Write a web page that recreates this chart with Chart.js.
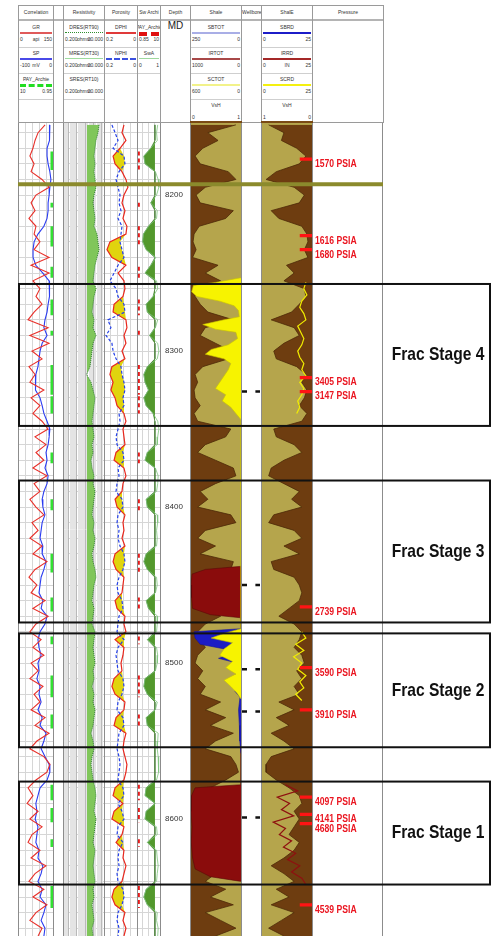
<!DOCTYPE html>
<html>
<head>
<meta charset="utf-8">
<script src="https://cdn.jsdelivr.net/npm/chart.js@4.4.1/dist/chart.umd.min.js"></script>
<style>
  html, body { margin: 0; padding: 0; background: #fff; }
  #page { position: relative; width: 492px; height: 936px; overflow: hidden;
          font-family: "Liberation Sans", Arial, sans-serif; color: #333; }
  canvas { position: absolute; }
  .hcol { position: absolute; top: 5px; height: 118px; border: 1px solid #9a9a9a;
          box-sizing: border-box; background: #fff; overflow: hidden; }
  .htitle { position: absolute; left: 0; right: 0; top: 0; height: 13px;
            border-bottom: 2px solid #b4b4b4; font-size: 5px; line-height: 13px;
            text-align: center; white-space: nowrap; }
  .hrow { position: absolute; left: 0; right: 0; height: 26px; border-bottom: 1px solid #cfcfcf; }
  .hname { position: absolute; left: -10px; right: -10px; top: 3px; text-align: center;
           font-size: 5px; white-space: nowrap; }
  .hline { position: absolute; left: 1px; right: 1px; top: 11px; height: 0; }
  .hlab { position: absolute; top: 15px; font-size: 5px; white-space: nowrap; }
  .tb { position: absolute; top: 123px; height: 813px; width: 0; border-left: 1px solid #8c8c8c; }
</style>
</head>
<body>
<div id="page"></div>
<script>
// ---------- depth frame ----------
const DEPTH_TOP = 8153.8;
const DEPTH_BASE = 8675;
const DEPTH_LABELS = [8200, 8300, 8400, 8500, 8600];

// ---------- log samples (5 ft) ----------
const DEPTH = [
  8155,8160,8165,8170,8175,8180,8185,8190,8195,8200,
  8205,8210,8215,8220,8225,8230,8235,8240,8245,8250,
  8255,8260,8265,8270,8275,8280,8285,8290,8295,8300,
  8305,8310,8315,8320,8325,8330,8335,8340,8345,8350,
  8355,8360,8365,8370,8375,8380,8385,8390,8395,8400,
  8405,8410,8415,8420,8425,8430,8435,8440,8445,8450,
  8455,8460,8465,8470,8475,8480,8485,8490,8495,8500,
  8505,8510,8515,8520,8525,8530,8535,8540,8545,8550,
  8555,8560,8565,8570,8575,8580,8585,8590,8595,8600,
  8605,8610,8615,8620,8625,8630,8635,8640,8645,8650,
  8655,8660,8665,8670,8675
];
const GR = [
  116,86,73,64,51,69,56,103,133,77,
  56,73,47,77,69,94,69,133,56,133,
  64,94,77,103,69,43,129,51,133,60,
  103,47,73,51,111,56,94,64,103,129,
  73,120,77,111,64,124,69,94,51,77,
  111,60,86,51,103,64,124,73,47,81,
  56,116,64,129,77,51,99,64,111,56,
  86,51,107,69,94,56,116,73,133,81,
  51,111,137,124,77,43,64,39,86,51,
  103,60,43,94,56,120,73,47,111,64,
  124,77,51,103,86
];
const SP = [
  -9,-9,-11,-17,-17,-14,-9,-6,-9,-11,
  -14,-14,-17,-26,-43,-54,-57,-57,-49,-29,
  -11,-9,-11,-14,-17,-23,-26,-17,-31,-37,
  -40,-43,-49,-51,-49,-37,-31,-26,-17,-9,
  -11,-14,-20,-17,-23,-14,-17,-26,-31,-29,
  -23,-31,-34,-37,-29,-31,-20,-26,-34,-37,
  -40,-29,-34,-17,-23,-37,-43,-40,-34,-43,
  -40,-46,-37,-40,-34,-43,-31,-37,-20,-26,
  -34,-23,-11,-9,-17,-37,-43,-49,-46,-51,
  -43,-46,-49,-40,-43,-29,-34,-43,-31,-37,
  -20,-26,-34,-23,-26
];
const DRES = [
  4900,3700,2100,1590,1210,1590,1210,1590,2100,1210,
  914,1210,1590,1210,2800,3700,4900,2800,1590,1210,
  914,2100,1210,914,690,1210,914,2100,914,690,
  520,392,150,520,914,1590,1210,914,690,914,
  1210,690,914,520,690,1210,914,1590,1210,914,
  690,1210,914,1590,1210,690,914,1590,2100,1210,
  914,690,1210,914,690,1590,1210,914,1210,1590,
  914,1210,690,1210,914,1590,1210,914,520,914,
  1210,690,520,690,914,1590,2100,1590,1210,2100,
  1590,1210,914,1590,1210,914,1210,1590,914,1210,
  690,914,1210,690,914
];
const RES_CUTOFF = 170;
const DPHI = [
  .079,.091,.067,.103,.145,.133,.091,.067,.055,.079,
  .091,.073,.085,.061,.067,.164,.182,.152,.067,.115,
  .079,.073,.085,.139,.145,.067,.061,.079,.067,.091,
  .073,.152,.164,.145,.158,.133,.121,.079,.067,.085,
  .079,.073,.127,.139,.079,.067,.085,.091,.133,.121,
  .073,.085,.079,.091,.073,.133,.145,.127,.079,.085,
  .091,.133,.121,.073,.079,.067,.133,.079,.085,.097,
  .091,.139,.152,.133,.073,.079,.127,.139,.067,.079,
  .085,.073,.061,.067,.079,.133,.145,.085,.139,.152,
  .079,.091,.127,.079,.085,.067,.079,.091,.139,.152,
  .133,.073,.085,.067,.079
];
const NPHI = [
  .152,.133,.115,.145,.079,.073,.109,.127,.115,.103,
  .109,.097,.115,.091,.097,.103,.091,.079,.115,.139,
  .164,.127,.115,.079,.073,.176,.158,.188,.152,.145,
  .127,.097,.091,.079,.073,.085,.079,.109,.103,.115,
  .127,.121,.085,.079,.115,.109,.121,.127,.091,.085,
  .115,.121,.109,.115,.103,.079,.073,.085,.109,.121,
  .115,.091,.085,.109,.115,.121,.079,.115,.127,.121,
  .115,.085,.079,.091,.115,.121,.085,.079,.109,.115,
  .121,.109,.103,.109,.115,.085,.079,.115,.091,.079,
  .115,.121,.085,.109,.115,.109,.121,.115,.085,.079,
  .091,.115,.121,.109,.115
];
const SWA = [
  .9,.85,.88,.6,.3,.35,.8,.92,.95,.85,
  .6,.88,.85,.5,.28,.25,.4,.82,.6,.35,
  .85,.9,.7,.4,.45,.9,.8,.55,.9,.95,
  .88,.45,.3,.35,.5,.3,.4,.7,.9,.95,
  .9,.88,.45,.35,.8,.92,.9,.85,.4,.45,
  .88,.9,.85,.88,.85,.4,.3,.45,.85,.88,
  .8,.4,.5,.9,.88,.85,.45,.85,.9,.88,
  .8,.35,.3,.45,.88,.8,.4,.45,.92,.9,
  .88,.92,.95,.93,.85,.4,.35,.8,.4,.35,
  .85,.88,.45,.85,.88,.92,.88,.85,.4,.3,
  .45,.88,.85,.92,.9
];
const SW_CUTOFF = 0.78;
const VSH = [
  .9,.35,.55,.25,.1,.2,.75,.9,.3,.12,
  .2,.85,.7,.18,.08,.06,.12,.05,.55,.3,
  .6,.12,.1,.2,.35,.85,.3,.2,.5,.8,
  .75,.25,.1,.15,.08,.1,.2,.08,.15,.8,
  .7,.3,.15,.5,.85,.9,.5,.2,.35,.15,
  .8,.9,.3,.15,.5,.2,.85,.8,.3,.2,
  .15,.2,.4,.6,.3,.15,.2,.3,.15,.1,
  .25,.15,.3,.2,.6,.3,.7,.4,.85,.5,
  .3,.8,.9,.95,.7,.4,.2,.15,.3,.2,
  .3,.4,.2,.3,.5,.8,.5,.3,.7,.4,
  .85,.3,.6,.9,.5
];
const VSHE = [
  .85,.55,.6,.3,.12,.25,.7,.9,.35,.15,
  .25,.8,.65,.2,.1,.08,.15,.08,.5,.35,
  .55,.15,.12,.25,.4,.8,.35,.25,.55,.75,
  .7,.3,.12,.2,.1,.15,.25,.1,.2,.75,
  .7,.35,.2,.55,.8,.85,.55,.25,.4,.2,
  .75,.85,.35,.2,.55,.25,.8,.75,.35,.25,
  .2,.25,.45,.65,.35,.2,.25,.35,.2,.15,
  .3,.2,.35,.25,.65,.35,.7,.45,.8,.55,
  .35,.8,.9,.9,.7,.45,.25,.2,.35,.25,
  .35,.45,.25,.35,.55,.8,.55,.35,.7,.45,
  .8,.35,.6,.85,.55
];

// ---------- pay flag intervals ----------
const PAY_TOP  = [8172,8205,8220,8246,8267,8287,8309,8329,8365,8395,8430,8458,8483,8508,8533,8578,8593,8613,8643];
const PAY_BASE = [8184,8208,8233,8253,8277,8290,8328,8340,8372,8402,8442,8467,8488,8522,8542,8588,8602,8618,8657];
const PAY_FLAG = 1;

// ---------- shale volume components ----------
const SCTOT_DEPTH = [8253,8256,8258,8262,8265,8268,8271,8274,8278,8280,8283,8286,8288,8292,8296,8299,8302,8305,8308,8312,8316,8320,8324,8328,8332,8336,8340,8344,
                     8478,8481,8484,8487,8491,8495,8499,8503,8507,8511,8515,8519,8523];
const SCTOT = [0,300,560,580,520,250,80,30,20,200,450,300,60,40,150,350,420,200,120,150,200,250,300,180,220,120,60,0,
               0,200,350,100,200,250,100,180,60,200,120,50,0];
const SBTOT_DEPTH = [8478,8480,8484,8488,8491,8494,8497,8500,8503,8506,8510,8514,8518,8522,8530,8540,8550,8558];
const SBTOT = [0,230,225,200,80,30,110,20,70,15,50,10,30,5,12,8,6,0];
const IRTOT_DEPTH = [8438,8440,8443,8450,8458,8465,8469,8471, 8578,8580,8585,8595,8605,8615,8625,8632,8637,8640];
const IRTOT = [0,700,960,980,970,950,600,0, 0,900,970,980,960,975,950,900,600,0];
const SCRD_DEPTH = [8256,8260,8264,8268,8272,8276,8280,8284,8288,8292,8296,8300,8304,8308,8312,8316,8320,8324,8328,8332,8336,8340,
                    8480,8484,8488,8492,8496,8500,8504,8508,8512,8516,8520,8524];
const SCRD = [22,21,22.5,20,19,21,22,18,19.5,21,20,18,19,21,20,22,19,21,20,18,19,17.5,
              20,22,17,21,16,20,18,22,19,21,17,20];
const SCRD_BREAK = 8340;
const IRRD_DEPTH = [8578,8582,8586,8590,8594,8598,8602,8606,8610,8614,8618,8622,8626,8630,8634,8638,8642];
const IRRD = [12,18,8,14,10,16,6,12,9,15,11,17,13,19,15,20,22];

// ---------- completion & pressure ----------
const PERF_DEPTH = [8326, 8450, 8504, 8531, 8599];
const PRESSURE_DEPTH = [8177, 8226, 8235, 8317, 8326, 8464, 8503, 8530, 8586, 8597, 8603, 8655];
const PRESSURE_PSI   = [1570, 1616, 1680, 3405, 3147, 2739, 3590, 3910, 4097, 4141, 4680, 4539];
const MARKER_DEPTH = 8193;
const FRAC_STAGE = [4, 3, 2, 1];
const FRAC_TOP   = [8257, 8383, 8481, 8576];
const FRAC_BASE  = [8348, 8474, 8554, 8642];

// ---------- header ----------
const TRACKS = [
  { x: 18,  w: 35, title: 'Correlation', rows: [
      { n: 'GR', line: '2px solid #e05a5a', l: '0', m: 'api', r: '150' },
      { n: 'SP', line: '2px solid #4a4ae8', l: '-100', m: 'mV', r: '0' },
      { n: 'PAY_Archie', line: '3px dashed #22dd22', l: '10', r: '0.95' } ] },
  { x: 53,  w: 10, title: '', rows: [] },
  { x: 63,  w: 41, title: 'Resistivity', rows: [
      { n: 'DRES(RT90)', line: '1px dotted #2f8f2f', l: '0.200', m: 'ohmm', r: '20.000' },
      { n: 'MRES(RT30)', line: '1px solid #9edc9e', l: '0.200', m: 'ohmm', r: '20.000' },
      { n: 'SRES(RT10)', line: '', l: '0.200', m: 'ohmm', r: '20.000' } ] },
  { x: 104, w: 33, title: 'Porosity', rows: [
      { n: 'DPHI', line: '2px solid #e03a3a', l: '0.2', r: '0' },
      { n: 'NPHI', line: '2px dashed #3a50e0', l: '0.2', r: '0' } ] },
  { x: 137, w: 23, title: 'Sw Archi', rows: [
      { n: 'PAY_Archie', line: '4px dashed #e01010', l: '0.85', r: '10' },
      { n: 'SwA', line: '1px solid #9ed89e', l: '0', r: '1' } ] },
  { x: 160, w: 30, title: 'Depth', rows: [], big: 'MD' },
  { x: 190, w: 51, title: 'Shale', rows: [
      { n: 'SBTOT', line: '2px solid #a9aee6', l: '250', r: '0' },
      { n: 'IRTOT', line: '2px solid #a84848', l: '1000', r: '0' },
      { n: 'SCTOT', line: '2px solid #f2f28a', l: '600', r: '0' },
      { n: 'VsH', line: '', l: '0', r: '1' } ] },
  { x: 241, w: 20, title: 'Wellbore', rows: [] },
  { x: 261, w: 51, title: 'ShalE', rows: [
      { n: 'SBRD', line: '2px solid #1c1cc8', l: '0', r: '25' },
      { n: 'IRRD', line: '2px solid #a42828', l: '0', m: 'IN', r: '25' },
      { n: 'SCRD', line: '2px solid #f4f010', l: '0', r: '25' },
      { n: 'VsH', line: '', l: '1', r: '0' } ] },
  { x: 312, w: 71, title: 'Pressure', rows: [] }
];

const page = document.getElementById('page');
function el(tag, cls, parent, css, text) {
  const e = document.createElement(tag);
  if (cls) e.className = cls;
  if (css) Object.assign(e.style, css);
  if (text !== undefined) e.textContent = text;
  parent.appendChild(e);
  return e;
}
TRACKS.forEach(t => {
  const col = el('div', 'hcol', page, { left: t.x + 'px', width: (t.w + 1) + 'px' });
  el('div', 'htitle', col, null, t.title);
  if (t.big) el('div', null, col, { position: 'absolute', left: 0, right: 0, top: '14px',
    textAlign: 'center', fontSize: '10px', color: '#222' }, t.big);
  t.rows.forEach((r, i) => {
    const row = el('div', 'hrow', col, { top: (15 + 26 * i) + 'px' });
    el('div', 'hname', row, null, r.n);
    if (r.line) el('div', 'hline', row, { borderTop: r.line });
    if (r.l) el('div', 'hlab', row, { left: '1px' }, r.l);
    if (r.m) el('div', 'hlab', row, { left: 0, right: 0, textAlign: 'center' }, r.m);
    if (r.r) el('div', 'hlab', row, { right: '1px' }, r.r);
  });
});
// brown VsH colour bars under the shale headers
[190, 261].forEach(x => el('div', null, page, { position: 'absolute', left: x + 'px', top: '121px',
  width: '52px', height: '2px', background: '#7a4a14' }));

// ---------- chart helpers ----------
const CANVAS_TOP = 123, CANVAS_H = 813;
const GRID = '#d6d6d6';

function canvasAt(left, width) {
  const c = document.createElement('canvas');
  c.width = width; c.height = CANVAS_H;
  c.style.left = left + 'px'; c.style.top = CANVAS_TOP + 'px';
  page.appendChild(c);
  return c;
}
function depthScale(gridColor) {
  return {
    type: 'linear', axis: 'y', position: 'left', reverse: true,
    min: DEPTH_TOP, max: DEPTH_BASE,
    afterFit: s => { s.width = 0; },
    afterBuildTicks: s => {
      const t = [];
      for (let v = Math.ceil(s.min / 10) * 10; v <= s.max; v += 10) t.push({ value: v });
      s.ticks = t;
    },
    ticks: { display: false },
    grid: { display: !!gridColor, color: gridColor || 'transparent', drawTicks: false, lineWidth: 1 },
    border: { display: false }
  };
}
function valueScale(min, max, opt) {
  opt = opt || {};
  return {
    type: opt.type || 'linear', axis: 'x', position: 'bottom', min, max,
    reverse: !!opt.reverse,
    afterFit: s => { s.height = 0; },
    ticks: Object.assign({ display: false }, opt.step ? { stepSize: opt.step } : {}),
    grid: { display: !!opt.grid, color: opt.grid || 'transparent', drawTicks: false, lineWidth: 1 },
    border: { display: false }
  };
}
function pts(depths, values) { return depths.map((d, i) => ({ x: values[i], y: d })); }
function curve(depths, values, axis, style) {
  return Object.assign({ data: pts(depths, values), xAxisID: axis, yAxisID: 'y',
    pointRadius: 0, fill: false, borderWidth: 1 }, style);
}
function makeChart(left, width, scales, datasets, plugins, bg) {
  const c = canvasAt(left, width);
  if (bg) c.style.background = bg;
  return new Chart(c, {
    type: 'line',
    data: { datasets },
    options: {
      indexAxis: 'y', responsive: false, animation: false, events: [],
      layout: { padding: 0 },
      plugins: { legend: { display: false }, tooltip: { enabled: false } },
      elements: { point: { radius: 0 }, line: { tension: 0 } },
      scales
    },
    plugins: plugins || []
  });
}
function intervalPts(tops, bases, xv) {
  const out = [];
  tops.forEach((t, i) => { out.push({ x: xv, y: t }, { x: xv, y: bases[i] }, { x: null, y: bases[i] }); });
  return out;
}
// condensed bold text (narrow face look)
function narrowText(ctx, text, x, y, px, align) {
  ctx.save();
  ctx.translate(x, y);
  ctx.scale(0.82, 1);
  ctx.font = 'bold ' + px + 'px "Liberation Sans", Arial, sans-serif';
  ctx.textAlign = align;
  ctx.textBaseline = 'middle';
  ctx.fillText(text, 0, 0);
  ctx.restore();
}

// ---------- Correlation track ----------
makeChart(18, 35, {
  y: depthScale(GRID),
  gr: valueScale(0, 150, { grid: GRID, step: 30 }),
  sp: valueScale(-100, 0),
  pay: valueScale(0, 1.03)
}, [
  { data: intervalPts(PAY_TOP, PAY_BASE, PAY_FLAG), xAxisID: 'pay', yAxisID: 'y',
    borderColor: '#33e033', borderWidth: 3, pointRadius: 0, fill: false },
  curve(DEPTH, GR, 'gr', { borderColor: '#e8302a', borderWidth: 1.1 }),
  curve(DEPTH, SP, 'sp', { borderColor: '#2b3cf0', borderWidth: 1.1 })
]);

// ---------- Resistivity track ----------
makeChart(63, 41, {
  y: depthScale(GRID),
  res: Object.assign(valueScale(0.2, 20000, { type: 'logarithmic', grid: GRID }), {
    grid: { display: true, drawTicks: false,
      color: c => {
        const v = c.tick ? c.tick.value : 1;
        const m = v / Math.pow(10, Math.floor(Math.log10(v) + 1e-9));
        return Math.abs(m - 1) < 1e-6 ? '#b9b9b9' : '#e4e4e4';
      } }
  })
}, [
  curve(DEPTH, DRES, 'res', { borderColor: '#2f7f2f', borderWidth: 1, borderDash: [1, 1],
    fill: { value: RES_CUTOFF }, backgroundColor: '#80c65a' })
]);

// ---------- Porosity track ----------
const XOVER = DPHI.map((v, i) => (v > NPHI[i] ? NPHI[i] : v));
makeChart(104, 33, {
  y: depthScale(GRID),
  phi: valueScale(0, 0.2, { reverse: true, grid: GRID, step: 0.04 })
}, [
  curve(DEPTH, NPHI, 'phi', { borderColor: '#2440e8', borderWidth: 1.2, borderDash: [3, 2] }),
  curve(DEPTH, DPHI, 'phi', { borderColor: '#e8281e', borderWidth: 1.2, fill: 2, backgroundColor: '#e0d40e' }),
  curve(DEPTH, XOVER, 'phi', { borderWidth: 0, borderColor: 'rgba(0,0,0,0)' })
]);

// ---------- Sw Archie track ----------
const SW_PAY = SWA.map(v => Math.min(v, SW_CUTOFF));
makeChart(137, 23, {
  y: depthScale(GRID),
  sw: valueScale(0, 1, { grid: GRID, step: 0.25 }),
  pay: valueScale(0, 1)
}, [
  { data: intervalPts(PAY_TOP, PAY_BASE, 0.08), xAxisID: 'pay', yAxisID: 'y',
    borderColor: '#e81818', borderWidth: 2, borderDash: [4, 3], pointRadius: 0, fill: false },
  curve(DEPTH, SWA, 'sw', { borderColor: '#7fc47f', borderWidth: 0.8 }),
  curve(DEPTH, SW_PAY, 'sw', { borderColor: '#2f6f1a', borderWidth: 0.6,
    fill: { value: SW_CUTOFF }, backgroundColor: '#52982c' })
]);

// ---------- Depth track ----------
makeChart(160, 30, { y: depthScale(null), x: valueScale(0, 1) }, [], [{
  id: 'depthLabels',
  afterDraw(chart) {
    const ctx = chart.ctx, ys = chart.scales.y;
    ctx.save();
    ctx.font = '8px "Liberation Sans", Arial, sans-serif';
    ctx.fillStyle = '#333';
    ctx.textAlign = 'center';
    ctx.textBaseline = 'middle';
    DEPTH_LABELS.forEach(d => ctx.fillText(String(d), chart.width / 2 - 1, ys.getPixelForValue(d)));
    ctx.restore();
  }
}]);

// ---------- Shale track ----------
makeChart(190, 51, {
  y: depthScale(null),
  vsh: valueScale(0, 1),
  sb: valueScale(0, 250, { reverse: true }),
  ir: valueScale(0, 1000, { reverse: true }),
  sc: valueScale(0, 600, { reverse: true })
}, [
  curve(SCTOT_DEPTH, SCTOT, 'sc', { borderColor: '#c9c200', borderWidth: 0.6, fill: { value: 0 }, backgroundColor: '#f7f300' }),
  curve(SBTOT_DEPTH, SBTOT, 'sb', { borderColor: '#10109a', borderWidth: 0.6, fill: { value: 0 }, backgroundColor: '#1c1cc4' }),
  curve(IRTOT_DEPTH, IRTOT, 'ir', { borderColor: '#5a0808', borderWidth: 0.6, fill: { value: 0 }, backgroundColor: '#8a0c0c' }),
  curve(DEPTH, VSH, 'vsh', { borderColor: '#4d2a08', borderWidth: 0.8, fill: { value: 0 }, backgroundColor: '#6e3d10' })
], [], '#b5a54c');

// ---------- Wellbore track ----------
const perfPts = [];
PERF_DEPTH.forEach(d => {
  perfPts.push({ x: 0.05, y: d }, { x: 0.3, y: d }, { x: null, y: d },
               { x: 0.72, y: d }, { x: 0.95, y: d }, { x: null, y: d });
});
makeChart(241, 20, { y: depthScale(null), x: valueScale(0, 1) }, [
  { data: perfPts, xAxisID: 'x', yAxisID: 'y', borderColor: '#111', borderWidth: 2.5, pointRadius: 0, fill: false }
]);

// ---------- ShalE track ----------
const PRESS_TICK = 0.24;
const pressPts = [];
PRESSURE_DEPTH.forEach(d => { pressPts.push({ x: PRESS_TICK, y: d }, { x: 0, y: d }, { x: null, y: d }); });
const scrdPts = pts(SCRD_DEPTH, SCRD);
scrdPts.splice(SCRD_DEPTH.indexOf(SCRD_BREAK) + 1, 0, { x: null, y: SCRD_BREAK });
makeChart(261, 51, {
  y: depthScale(null),
  vsh: valueScale(0, 1, { reverse: true }),
  rd: valueScale(0, 25)
}, [
  { data: pressPts, xAxisID: 'vsh', yAxisID: 'y', borderColor: '#ff1414', borderWidth: 3.2, pointRadius: 0, fill: false },
  { data: scrdPts, xAxisID: 'rd', yAxisID: 'y', borderColor: '#f2ee00', borderWidth: 1.2, pointRadius: 0, fill: false },
  curve(IRRD_DEPTH, IRRD, 'rd', { borderColor: '#8e1010', borderWidth: 1.2 }),
  curve(DEPTH, VSHE, 'vsh', { borderColor: '#4d2a08', borderWidth: 0.8, fill: { value: 0 }, backgroundColor: '#6e3d10' })
], [], '#b5a54c');

// ---------- Pressure track ----------
makeChart(312, 70, { y: depthScale(null), x: valueScale(0, 1) }, [], [{
  id: 'pressureLabels',
  afterDraw(chart) {
    const ctx = chart.ctx, ys = chart.scales.y;
    ctx.save();
    ctx.fillStyle = '#ea1520';
    PRESSURE_DEPTH.forEach((d, i) =>
      narrowText(ctx, PRESSURE_PSI[i] + ' PSIA', 3, ys.getPixelForValue(d) + 5, 10.5, 'left'));
    ctx.restore();
  }
}]);

// ---------- track separators ----------
[18, 53, 63, 104, 137, 160, 190, 241, 261, 312, 382].forEach(x => el('div', 'tb', page, { left: x + 'px' }));

// ---------- marker line and frac stage boxes ----------
makeChart(0, 492, { y: depthScale(null), x: valueScale(0, 1) }, [], [{
  id: 'stages',
  afterDraw(chart) {
    const ctx = chart.ctx, ys = chart.scales.y;
    ctx.save();
    const my = ys.getPixelForValue(MARKER_DEPTH);
    ctx.strokeStyle = '#8b8a2c';
    ctx.lineWidth = 4;
    ctx.beginPath(); ctx.moveTo(18, my); ctx.lineTo(383, my); ctx.stroke();
    ctx.strokeStyle = '#111';
    ctx.lineWidth = 2;
    ctx.fillStyle = '#111';
    FRAC_STAGE.forEach((s, i) => {
      const t = ys.getPixelForValue(FRAC_TOP[i]);
      const b = ys.getPixelForValue(FRAC_BASE[i]);
      ctx.strokeRect(19, t, 471, b - t);
      narrowText(ctx, 'Frac Stage ' + s, 438, (t + b) / 2, 19, 'center');
    });
    ctx.restore();
  }
}]);
</script>
</body>
</html>
